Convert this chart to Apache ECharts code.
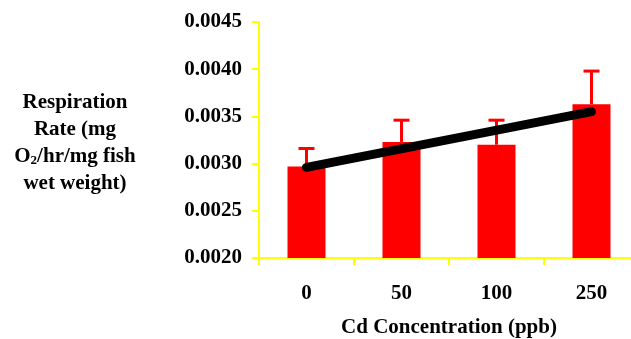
<!DOCTYPE html>
<html><head><meta charset="utf-8">
<script src="https://cdn.jsdelivr.net/npm/echarts@6/dist/echarts.min.js"></script>
<style>html,body{margin:0;padding:0;background:#fff}#c{width:631px;height:339px}</style>
</head><body><div id="c"></div>
<script>
const categories = ['0', '50', '100', '250'];
const rateMeans = [0.00297, 0.00323, 0.00320, 0.00363];
const rateErrTops = [0.00316, 0.00346, 0.00346, 0.00398];
const trendLine = [['0', 0.00296], ['250', 0.00355]];
const yMin = 0.0020, yMax = 0.0045, yStep = 0.0005;

const font = 'Liberation Serif';
const chart = echarts.init(document.getElementById('c'));
chart.setOption({
  animation: false,
  grid: { left: 259, top: 22, bottom: 81, right: -8, outerBoundsMode: 'none', containLabel: false },
  graphic: [{
    type: 'text', x: 75, y: 89,
    style: {
      text: 'Respiration\nRate (mg\nO{sub|2}/hr/mg fish\nwet weight)',
      align: 'center', verticalAlign: 'top',
      font: 'bold 21px "Liberation Serif"',
      lineHeight: 27, fill: '#000',
      rich: { sub: { fontSize: 13, fontWeight: 'bold', fontFamily: font, padding: [8, 0, 0, 0], lineHeight: 27 } }
    }
  }],
  xAxis: {
    type: 'category', data: categories,
    name: 'Cd Concentration (ppb)', nameLocation: 'middle', nameGap: 59,
    nameTextStyle: { fontFamily: font, fontWeight: 'bold', fontSize: 21, color: '#000' },
    axisLine: { lineStyle: { color: '#ffff00', width: 2 } },
    axisTick: { show: true, length: 7, lineStyle: { color: '#ffff00', width: 2 } },
    axisLabel: { margin: 25, fontFamily: font, fontWeight: 'bold', fontSize: 21, color: '#000' }
  },
  yAxis: {
    type: 'value', min: yMin, max: yMax, interval: yStep,
    splitLine: { show: false },
    axisLine: { show: true, lineStyle: { color: '#ffff00', width: 2 } },
    axisTick: { show: true, length: 7, lineStyle: { color: '#ffff00', width: 2 } },
    axisLabel: { margin: 17, fontFamily: font, fontWeight: 'bold', fontSize: 21, color: '#000',
      formatter: v => v.toFixed(4) }
  },
  series: [
    { type: 'bar', data: rateMeans, barWidth: '40%', itemStyle: { color: '#ff0000' }, z: 2 },
    { type: 'custom', z: 3,
      data: rateMeans.map((m, i) => [i, m, rateErrTops[i]]),
      renderItem: (params, api) => {
        const b = api.coord([api.value(0), api.value(1)]);
        const t = api.coord([api.value(0), api.value(2)]);
        const st = { stroke: '#ff0000', lineWidth: 3 };
        return { type: 'group', children: [
          { type: 'line', shape: { x1: b[0], y1: b[1], x2: t[0], y2: t[1] }, style: st },
          { type: 'line', shape: { x1: t[0] - 8, y1: t[1], x2: t[0] + 8, y2: t[1] }, style: st }
        ]};
      }
    },
    { type: 'line', data: trendLine, symbol: 'none', z: 4,
      lineStyle: { color: '#000', width: 9, cap: 'round' } }
  ]
});
</script></body></html>
